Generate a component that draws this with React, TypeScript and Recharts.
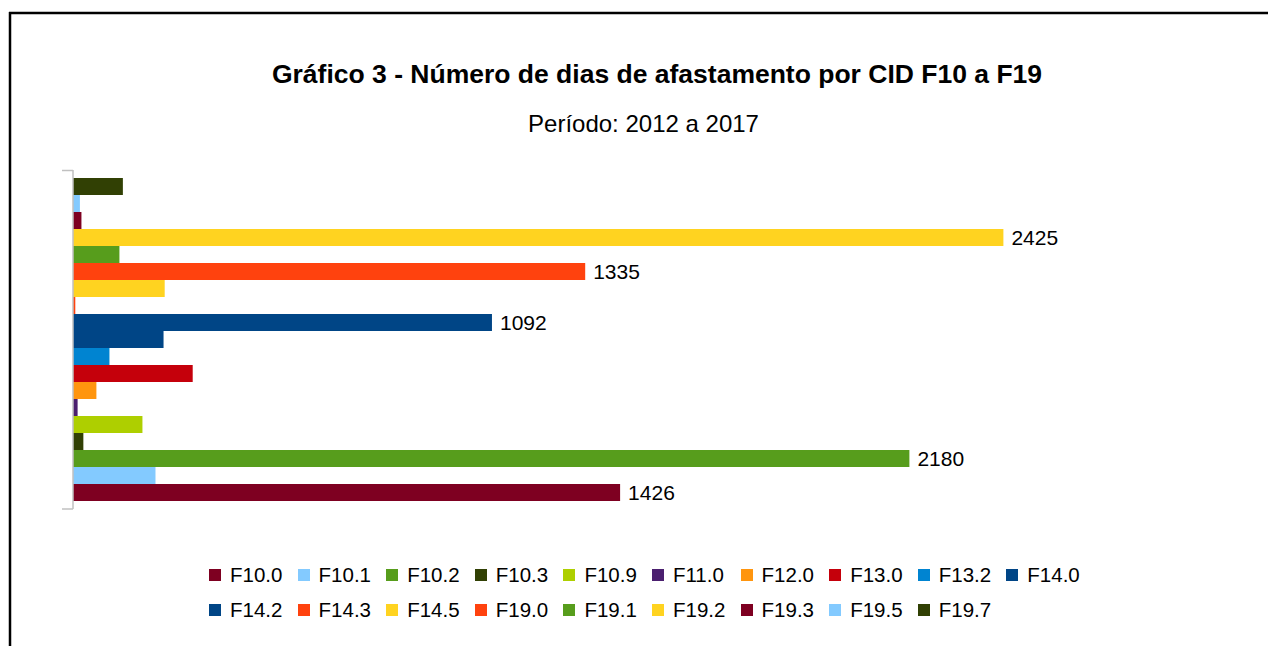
import React from "react";
import { BarChart, Bar, XAxis, YAxis, LabelList } from "recharts";

// CID codes, in legend order (bottom bar first)
const codes = [
  "F10.0", "F10.1", "F10.2", "F10.3", "F10.9", "F11.0", "F12.0", "F13.0", "F13.2", "F14.0",
  "F14.2", "F14.3", "F14.5", "F19.0", "F19.1", "F19.2", "F19.3", "F19.5", "F19.7",
];

// days off per code, 2012-2017
const days = [1426, 215, 2180, 27, 181, 12, 61, 312, 95, 236, 1092, 6, 239, 1335, 121, 2425, 22, 18, 130];

const colors = [
  "#7e0021", "#83caff", "#579d1c", "#314004", "#aecf00", "#4b1f6f", "#ff950e", "#c5000b", "#0084d1", "#004586",
  "#004586", "#ff420e", "#ffd320", "#ff420e", "#579d1c", "#ffd320", "#7e0021", "#83caff", "#314004",
];

// only these bars carry a value label
const labelled = ["F10.0", "F10.2", "F14.2", "F19.0", "F19.2"];

const row: Record<string, string | number> = { name: "CID" };
codes.forEach((c, i) => {
  row["s" + i] = days[i];
});
const data = [row];

const FONT = '"Liberation Sans", Arial, sans-serif';

const App = () => {
  // Excel draws the first series at the bottom, recharts at the top
  const order = codes.map((_, i) => i).reverse();

  return (
    <div style={{ position: "absolute", left: 0, top: 0, width: 1268, height: 646, overflow: "hidden", background: "#fff", fontFamily: FONT }}>
      <svg width={1268} height={646} style={{ position: "absolute", left: 0, top: 0 }}>
        <line x1={9} y1={13} x2={1268} y2={13} stroke="#000" strokeWidth={2.5} />
        <line x1={10} y1={12} x2={10} y2={646} stroke="#000" strokeWidth={2.5} />
        <text x={657} y={83} textAnchor="middle" fontSize={26.5} fontWeight="bold" fontFamily={FONT} fill="#000">
          Gráfico 3 - Número de dias de afastamento por CID F10 a F19
        </text>
        <text x={643.5} y={132} textAnchor="middle" fontSize={24} fontFamily={FONT} fill="#000">
          Período: 2012 a 2017
        </text>
        <line x1={62} y1={170.5} x2={73} y2={170.5} stroke="#c0c0c0" strokeWidth={1.5} />
        <line x1={62} y1={509} x2={73} y2={509} stroke="#c0c0c0" strokeWidth={1.5} />
      </svg>

      <div style={{ position: "absolute", left: 0, top: 0 }}>
        <BarChart
          width={1268}
          height={646}
          data={data}
          layout="vertical"
          margin={{ top: 170, bottom: 137, left: 63, right: 44 }}
          barGap={0}
        >
          <XAxis type="number" domain={[0, 3000]} hide />
          <YAxis
            type="category"
            dataKey="name"
            width={10}
            tick={false}
            tickLine={false}
            axisLine={{ stroke: "#c0c0c0", strokeWidth: 1.5 }}
          />
          {order.map((i) => (
            <Bar
              key={codes[i]}
              dataKey={"s" + i}
              name={codes[i]}
              fill={colors[i]}
              barSize={17}
              isAnimationActive={false}
            >
              {labelled.includes(codes[i]) && (
                <LabelList
                  dataKey={"s" + i}
                  position="right"
                  offset={8}
                  fill="#000"
                  fontSize={21}
                  fontFamily={FONT}
                />
              )}
            </Bar>
          ))}
        </BarChart>
      </div>

      <div
        style={{
          position: "absolute",
          left: 209,
          top: 563,
          width: 890,
          display: "flex",
          flexWrap: "wrap",
          rowGap: 11,
        }}
      >
        {codes.map((c, i) => (
          <div key={c} style={{ width: 88.6, height: 24, display: "flex", alignItems: "center" }}>
            <span style={{ width: 12, height: 12, background: colors[i], marginRight: 9, flexShrink: 0 }} />
            <span style={{ fontSize: 20.5, lineHeight: "24px", color: "#000" }}>{c}</span>
          </div>
        ))}
      </div>
    </div>
  );
};

export default App;
